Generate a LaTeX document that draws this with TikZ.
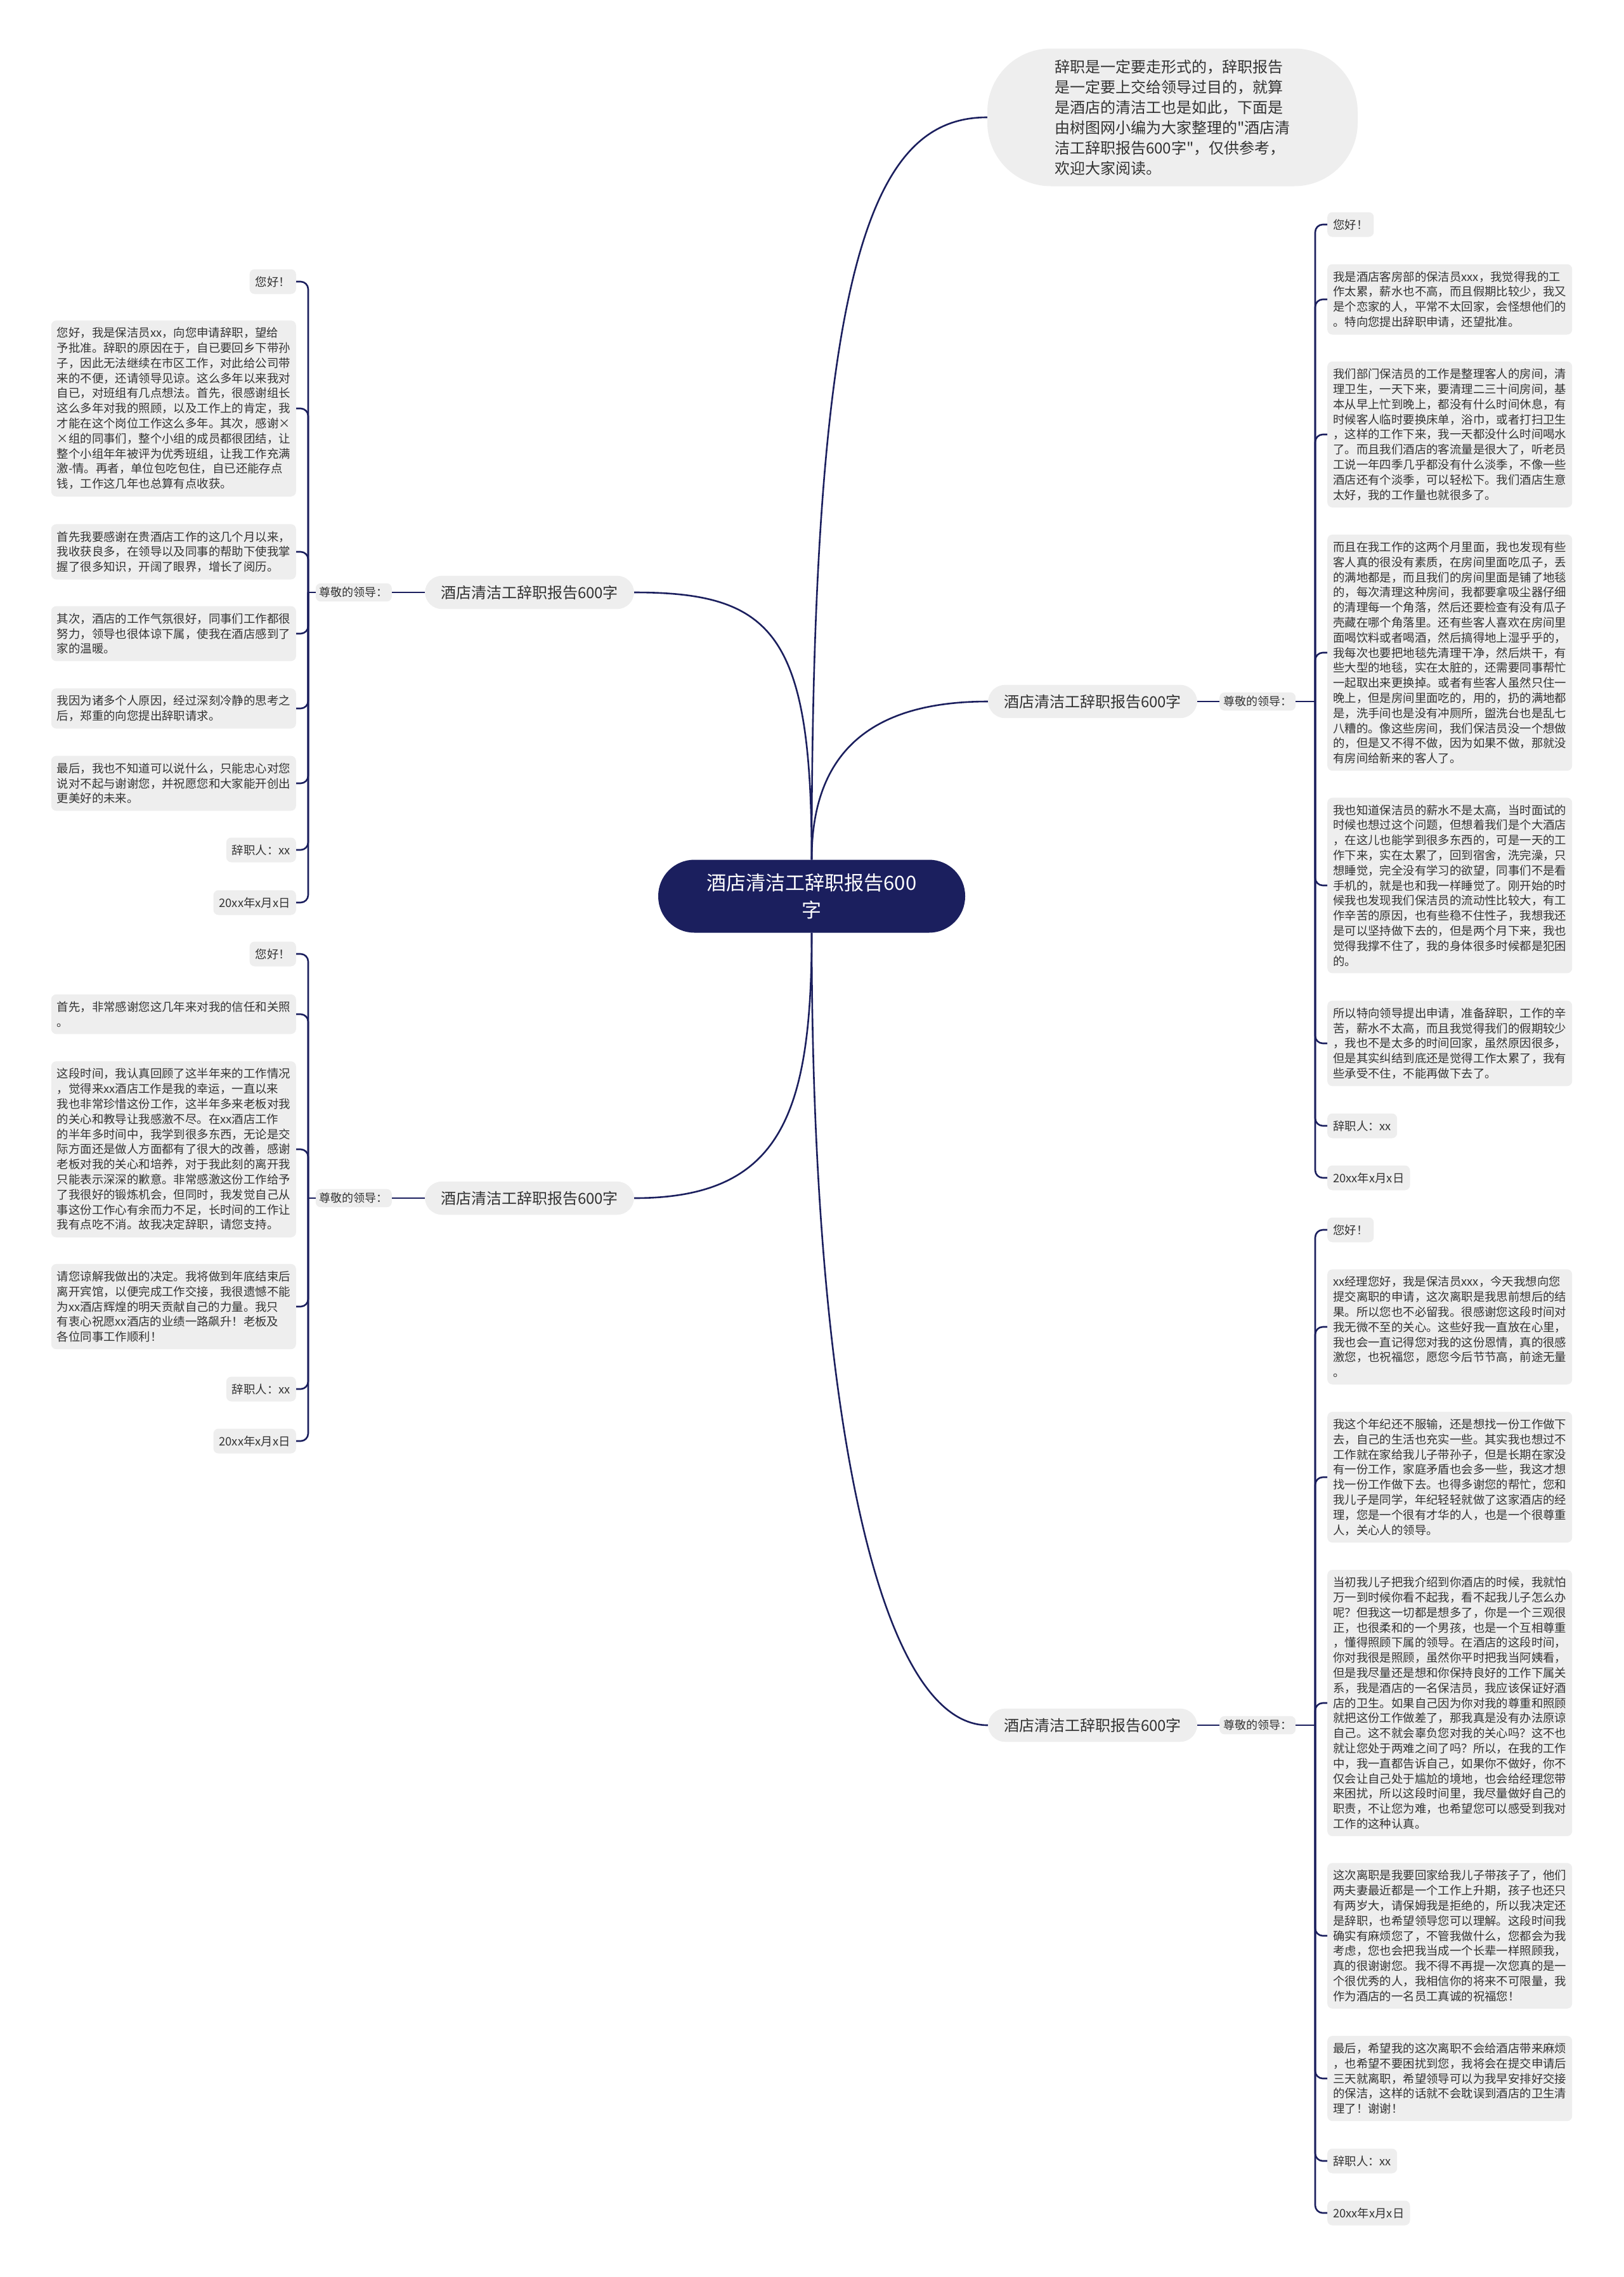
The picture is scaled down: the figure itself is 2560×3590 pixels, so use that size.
\documentclass[tikz,border=0pt]{standalone}
\usepackage{fontspec}
\setmainfont{Noto Sans CJK SC}
\definecolor{navy}{HTML}{1B1F5E}
\definecolor{leafgray}{HTML}{EEEEEE}
\definecolor{txtgray}{HTML}{333333}
\newcommand{\Hello}{您好！}
\newcommand{\Signer}{辞职人：xx}
\newcommand{\DateLine}{20xx年x月x日}
\newcommand{\Lead}{尊敬的领导：}
\newcommand{\Title}{酒店清洁工辞职报告600字}

\begin{document}
\begin{tikzpicture}[x=1pt,y=-1pt,
  leaf/.style={fill=leafgray,rounded corners=8pt,text=txtgray,align=left,
    inner xsep=9pt,inner ysep=11pt,font=\fontsize{18.4}{23.8}\selectfont},
  leader/.style={fill=leafgray,rounded corners=8pt,text=txtgray,
    inner xsep=6pt,inner ysep=6pt,font=\fontsize{18}{22}\selectfont},
  branch/.style={fill=leafgray,rounded corners=27pt,text=txtgray,
    inner xsep=25pt,inner ysep=15pt,font=\fontsize{24}{28}\selectfont},
  conn/.style={draw=navy,line width=2.6pt,rounded corners=12pt}]
\fill[white] (0,0) rectangle (2560,3590);
\useasboundingbox (0,0) rectangle (2560,3590);

\node[fill=navy,text=white,rounded corners=57pt,align=center,minimum width=484pt,
  minimum height=115pt,font=\fontsize{31}{43}\selectfont] (root) at (1280,1413)
  {酒店清洁工辞职报告600\\字};
\node[fill=leafgray,text=txtgray,rounded corners=100pt,align=left,minimum width=584pt,
  minimum height=217pt,font=\fontsize{24}{32}\selectfont] (intro) at (1849,185)
  {辞职是一定要走形式的，辞职报告\\是一定要上交给领导过目的，就算\\是酒店的清洁工也是如此，下面是\\由树图网小编为大家整理的\textquotedbl 酒店清\\洁工辞职报告600字\textquotedbl ，仅供参考，\\欢迎大家阅读。};

\node[branch] (B1) at (835,934) {\Title};
\node[branch] (B2) at (835,1889) {\Title};
\node[branch] (B3) at (1723,1106) {\Title};
\node[branch] (B4) at (1723,2720) {\Title};

\node[leader,anchor=east] (B1-lead) at (618,934) {\Lead};
\node[leader,anchor=east] (B2-lead) at (618,1889) {\Lead};
\node[leader,anchor=west] (B3-lead) at (1923,1106) {\Lead};
\node[leader,anchor=west] (B4-lead) at (1923,2720) {\Lead};

\coordinate (B1-trunk) at (486,934);
\coordinate (B2-trunk) at (486,1889);
\coordinate (B3-trunk) at (2074,1106);
\coordinate (B4-trunk) at (2074,2720);

\node[leaf,anchor=east] (B1-1) at (467,444) {\Hello};
\node[leaf,anchor=east] (B1-2) at (467,644) {您好，我是保洁员xx，向您申请辞职，望给\\予批准。辞职的原因在于，自已要回乡下带孙\\子，因此无法继续在市区工作，对此给公司带\\来的不便，还请领导见谅。这么多年以来我对\\自已，对班组有几点想法。首先，很感谢组长\\这么多年对我的照顾，以及工作上的肯定，我\\才能在这个岗位工作这么多年。其次，感谢×\\×组的同事们，整个小组的成员都很团结，让\\整个小组年年被评为优秀班组，让我工作充满\\激-情。再者，单位包吃包住，自已还能存点\\钱，工作这几年也总算有点收获。};
\node[leaf,anchor=east] (B1-3) at (467,870) {首先我要感谢在贵酒店工作的这几个月以来，\\我收获良多，在领导以及同事的帮助下使我掌\\握了很多知识，开阔了眼界，增长了阅历。};
\node[leaf,anchor=east] (B1-4) at (467,999) {其次，酒店的工作气氛很好，同事们工作都很\\努力，领导也很体谅下属，使我在酒店感到了\\家的温暖。};
\node[leaf,anchor=east] (B1-5) at (467,1117) {我因为诸多个人原因，经过深刻冷静的思考之\\后，郑重的向您提出辞职请求。};
\node[leaf,anchor=east] (B1-6) at (467,1235) {最后，我也不知道可以说什么，只能忠心对您\\说对不起与谢谢您，并祝愿您和大家能开创出\\更美好的未来。};
\node[leaf,anchor=east] (B1-7) at (467,1340) {\Signer};
\node[leaf,anchor=east] (B1-8) at (467,1423) {\DateLine};

\node[leaf,anchor=east] (B2-1) at (467,1504) {\Hello};
\node[leaf,anchor=east] (B2-2) at (467,1599) {首先，非常感谢您这几年来对我的信任和关照\\。};
\node[leaf,anchor=east] (B2-3) at (467,1812) {这段时间，我认真回顾了这半年来的工作情况\\，觉得来xx酒店工作是我的幸运，一直以来\\我也非常珍惜这份工作，这半年多来老板对我\\的关心和教导让我感激不尽。在xx酒店工作\\的半年多时间中，我学到很多东西，无论是交\\际方面还是做人方面都有了很大的改善，感谢\\老板对我的关心和培养，对于我此刻的离开我\\只能表示深深的歉意。非常感激这份工作给予\\了我很好的锻炼机会，但同时，我发觉自己从\\事这份工作心有余而力不足，长时间的工作让\\我有点吃不消。故我决定辞职，请您支持。};
\node[leaf,anchor=east] (B2-4) at (467,2060) {请您谅解我做出的决定。我将做到年底结束后\\离开宾馆，以便完成工作交接，我很遗憾不能\\为xx酒店辉煌的明天贡献自己的力量。我只\\有衷心祝愿xx酒店的业绩一路飙升！老板及\\各位同事工作顺利！};
\node[leaf,anchor=east] (B2-5) at (467,2190) {\Signer};
\node[leaf,anchor=east] (B2-6) at (467,2272) {\DateLine};

\node[leaf,anchor=west] (B3-1) at (2093,354) {\Hello};
\node[leaf,anchor=west] (B3-2) at (2093,472) {我是酒店客房部的保洁员xxx，我觉得我的工\\作太累，薪水也不高，而且假期比较少，我又\\是个恋家的人，平常不太回家，会怪想他们的\\。特向您提出辞职申请，还望批准。};
\node[leaf,anchor=west] (B3-3) at (2093,685) {我们部门保洁员的工作是整理客人的房间，清\\理卫生，一天下来，要清理二三十间房间，基\\本从早上忙到晚上，都没有什么时间休息，有\\时候客人临时要换床单，浴巾，或者打扫卫生\\，这样的工作下来，我一天都没什么时间喝水\\了。而且我们酒店的客流量是很大了，听老员\\工说一年四季几乎都没有什么淡季，不像一些\\酒店还有个淡季，可以轻松下。我们酒店生意\\太好，我的工作量也就很多了。};
\node[leaf,anchor=west] (B3-4) at (2093,1029) {而且在我工作的这两个月里面，我也发现有些\\客人真的很没有素质，在房间里面吃瓜子，丢\\的满地都是，而且我们的房间里面是铺了地毯\\的，每次清理这种房间，我都要拿吸尘器仔细\\的清理每一个角落，然后还要检查有没有瓜子\\壳藏在哪个角落里。还有些客人喜欢在房间里\\面喝饮料或者喝酒，然后搞得地上湿乎乎的，\\我每次也要把地毯先清理干净，然后烘干，有\\些大型的地毯，实在太脏的，还需要同事帮忙\\一起取出来更换掉。或者有些客人虽然只住一\\晚上，但是房间里面吃的，用的，扔的满地都\\是，洗手间也是没有冲厕所，盥洗台也是乱七\\八糟的。像这些房间，我们保洁员没一个想做\\的，但是又不得不做，因为如果不做，那就没\\有房间给新来的客人了。};
\node[leaf,anchor=west] (B3-5) at (2093,1396) {我也知道保洁员的薪水不是太高，当时面试的\\时候也想过这个问题，但想着我们是个大酒店\\，在这儿也能学到很多东西的，可是一天的工\\作下来，实在太累了，回到宿舍，洗完澡，只\\想睡觉，完全没有学习的欲望，同事们不是看\\手机的，就是也和我一样睡觉了。刚开始的时\\候我也发现我们保洁员的流动性比较大，有工\\作辛苦的原因，也有些稳不住性子，我想我还\\是可以坚持做下去的，但是两个月下来，我也\\觉得我撑不住了，我的身体很多时候都是犯困\\的。};
\node[leaf,anchor=west] (B3-6) at (2093,1645) {所以特向领导提出申请，准备辞职，工作的辛\\苦，薪水不太高，而且我觉得我们的假期较少\\，我也不是太多的时间回家，虽然原因很多，\\但是其实纠结到底还是觉得工作太累了，我有\\些承受不住，不能再做下去了。};
\node[leaf,anchor=west] (B3-7) at (2093,1775) {\Signer};
\node[leaf,anchor=west] (B3-8) at (2093,1857) {\DateLine};

\node[leaf,anchor=west] (B4-1) at (2093,1939) {\Hello};
\node[leaf,anchor=west] (B4-2) at (2093,2092) {xx经理您好，我是保洁员xxx，今天我想向您\\提交离职的申请，这次离职是我思前想后的结\\果。所以您也不必留我。很感谢您这段时间对\\我无微不至的关心。这些好我一直放在心里，\\我也会一直记得您对我的这份恩情，真的很感\\激您，也祝福您，愿您今后节节高，前途无量\\。};
\node[leaf,anchor=west] (B4-3) at (2093,2329) {我这个年纪还不服输，还是想找一份工作做下\\去，自己的生活也充实一些。其实我也想过不\\工作就在家给我儿子带孙子，但是长期在家没\\有一份工作，家庭矛盾也会多一些，我这才想\\找一份工作做下去。也得多谢您的帮忙，您和\\我儿子是同学，年纪轻轻就做了这家酒店的经\\理，您是一个很有才华的人，也是一个很尊重\\人，关心人的领导。};
\node[leaf,anchor=west] (B4-4) at (2093,2685) {当初我儿子把我介绍到你酒店的时候，我就怕\\万一到时候你看不起我，看不起我儿子怎么办\\呢？但我这一切都是想多了，你是一个三观很\\正，也很柔和的一个男孩，也是一个互相尊重\\，懂得照顾下属的领导。在酒店的这段时间，\\你对我很是照顾，虽然你平时把我当阿姨看，\\但是我尽量还是想和你保持良好的工作下属关\\系，我是酒店的一名保洁员，我应该保证好酒\\店的卫生。如果自己因为你对我的尊重和照顾\\就把这份工作做差了，那我真是没有办法原谅\\自己。这不就会辜负您对我的关心吗？这不也\\就让您处于两难之间了吗？所以，在我的工作\\中，我一直都告诉自己，如果你不做好，你不\\仅会让自己处于尴尬的境地，也会给经理您带\\来困扰，所以这段时间里，我尽量做好自己的\\职责，不让您为难，也希望您可以感受到我对\\工作的这种认真。};
\node[leaf,anchor=west] (B4-5) at (2093,3052) {这次离职是我要回家给我儿子带孩子了，他们\\两夫妻最近都是一个工作上升期，孩子也还只\\有两岁大，请保姆我是拒绝的，所以我决定还\\是辞职，也希望领导您可以理解。这段时间我\\确实有麻烦您了，不管我做什么，您都会为我\\考虑，您也会把我当成一个长辈一样照顾我，\\真的很谢谢您。我不得不再提一次您真的是一\\个很优秀的人，我相信你的将来不可限量，我\\作为酒店的一名员工真诚的祝福您！};
\node[leaf,anchor=west] (B4-6) at (2093,3277) {最后，希望我的这次离职不会给酒店带来麻烦\\，也希望不要困扰到您，我将会在提交申请后\\三天就离职，希望领导可以为我早安排好交接\\的保洁，这样的话就不会耽误到酒店的卫生清\\理了！谢谢！};
\node[leaf,anchor=west] (B4-7) at (2093,3407) {\Signer};
\node[leaf,anchor=west] (B4-8) at (2093,3489) {\DateLine};

\draw[conn] (root.north) .. controls (1280,400) and (1380,185) .. (intro.west);
\draw[conn] (root.north) .. controls (1280,1000) and (1220,934) .. (B1.east);
\draw[conn] (root.north) .. controls (1280,1180) and (1380,1106) .. (B3.west);
\draw[conn] (root.south) .. controls (1280,1760) and (1230,1889) .. (B2.east);
\draw[conn] (root.south) .. controls (1280,2200) and (1380,2720) .. (B4.west);

\draw[conn] (B1.west) -- (B1-lead.east);
\draw[conn] (B2.west) -- (B2-lead.east);
\draw[conn] (B3.east) -- (B3-lead.west);
\draw[conn] (B4.east) -- (B4-lead.west);
\draw[conn] (B1-lead.west) -- (B1-trunk);
\draw[conn] (B2-lead.west) -- (B2-trunk);
\draw[conn] (B3-lead.east) -- (B3-trunk);
\draw[conn] (B4-lead.east) -- (B4-trunk);

\draw[conn] (B1-trunk) |- (B1-1.east);
\draw[conn] (B1-trunk) |- (B1-2.east);
\draw[conn] (B1-trunk) |- (B1-3.east);
\draw[conn] (B1-trunk) |- (B1-4.east);
\draw[conn] (B1-trunk) |- (B1-5.east);
\draw[conn] (B1-trunk) |- (B1-6.east);
\draw[conn] (B1-trunk) |- (B1-7.east);
\draw[conn] (B1-trunk) |- (B1-8.east);
\draw[conn] (B2-trunk) |- (B2-1.east);
\draw[conn] (B2-trunk) |- (B2-2.east);
\draw[conn] (B2-trunk) |- (B2-3.east);
\draw[conn] (B2-trunk) |- (B2-4.east);
\draw[conn] (B2-trunk) |- (B2-5.east);
\draw[conn] (B2-trunk) |- (B2-6.east);
\draw[conn] (B3-trunk) |- (B3-1.west);
\draw[conn] (B3-trunk) |- (B3-2.west);
\draw[conn] (B3-trunk) |- (B3-3.west);
\draw[conn] (B3-trunk) |- (B3-4.west);
\draw[conn] (B3-trunk) |- (B3-5.west);
\draw[conn] (B3-trunk) |- (B3-6.west);
\draw[conn] (B3-trunk) |- (B3-7.west);
\draw[conn] (B3-trunk) |- (B3-8.west);
\draw[conn] (B4-trunk) |- (B4-1.west);
\draw[conn] (B4-trunk) |- (B4-2.west);
\draw[conn] (B4-trunk) |- (B4-3.west);
\draw[conn] (B4-trunk) |- (B4-4.west);
\draw[conn] (B4-trunk) |- (B4-5.west);
\draw[conn] (B4-trunk) |- (B4-6.west);
\draw[conn] (B4-trunk) |- (B4-7.west);
\draw[conn] (B4-trunk) |- (B4-8.west);
\end{tikzpicture}
\end{document}
